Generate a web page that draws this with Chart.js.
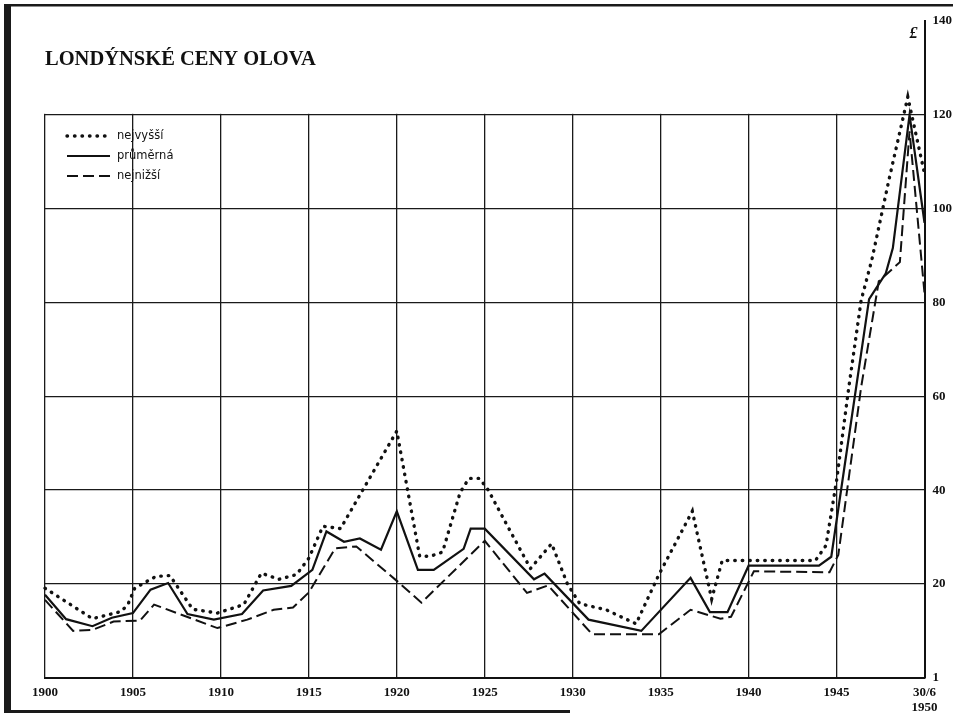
<!DOCTYPE html>
<html lang="cs">
<head>
<meta charset="utf-8">
<title>Londýnské ceny olova</title>
<script src="https://cdn.jsdelivr.net/npm/chart.js@4.4.1/dist/chart.umd.min.js"></script>
<style>
  html, body { margin: 0; padding: 0; background: #fff; }
  #wrap { width: 953px; height: 717px; }
</style>
</head>
<body>
<div id="wrap"><canvas id="leadChart" width="953" height="717"></canvas></div>
<script>
// Londýnské ceny olova, £ za tunu, 1900 - 30/6 1950
const titleText = 'LONDÝNSKÉ CENY OLOVA';
const seriesNames = ['nejvyšší', 'průměrná', 'nejnižší'];
const yTickLabels = { 0: '1', 140: '140' };

// nejvyšší
const highYears = [1900, 1902.7, 1904.3, 1904.7, 1905.1, 1906.3, 1907.1, 1908.4, 1909.8, 1911.3,
  1912.3, 1913.3, 1914.3, 1915.0, 1915.8, 1916.8, 1920.0, 1921.3, 1921.9, 1922.6,
  1923.6, 1924.1, 1924.7, 1925.2, 1926.2, 1927.6, 1928.8, 1929.7, 1930.4, 1931.9,
  1933.6, 1934.9, 1936.8, 1937.9, 1938.5, 1943.8, 1944.4, 1945.0, 1945.7, 1946.4,
  1947.0, 1948.0, 1949.05, 1950];
const highValues = [19.1, 12.6, 14.1, 15.5, 19.1, 21.6, 21.8, 14.6, 13.8, 15.6,
  22.3, 21.0, 22.0, 25.5, 32.3, 31.8, 52.6, 25.9, 25.9, 26.8,
  39.5, 42.5, 42.5, 40.0, 33.0, 23.3, 28.6, 20.0, 15.8, 14.5,
  11.5, 22.0, 35.5, 16.8, 25.0, 25.0, 28.2, 42.0, 62.0, 80.5,
  89.0, 106.5, 123.8, 107.5];

// průměrná
const avgYears = [1900, 1901.2, 1902.7, 1903.8, 1905.0, 1906.0, 1907.0, 1908.1, 1909.6, 1911.2,
  1912.4, 1914.0, 1915.2, 1916.0, 1917.0, 1917.9, 1919.1, 1920.0, 1921.2, 1922.1,
  1923.8, 1924.2, 1925.0, 1927.8, 1928.4, 1930.9, 1933.9, 1936.7, 1937.8, 1938.8,
  1940.0, 1944.0, 1944.7, 1946.85, 1947.8, 1948.2, 1949.15, 1950];
const avgValues = [17.7, 12.5, 11.0, 12.8, 13.8, 18.8, 20.2, 13.6, 12.4, 13.6,
  18.6, 19.6, 23.0, 31.2, 29.0, 29.7, 27.3, 35.5, 23.0, 23.0,
  27.5, 31.8, 31.8, 21.0, 22.2, 12.4, 10.0, 21.3, 14.0, 14.0,
  23.9, 23.9, 25.8, 80.7, 86.2, 91.6, 120.0, 97.0];

// nejnižší
const lowYears = [1900, 1901.6, 1902.7, 1903.9, 1905.4, 1906.2, 1909.8, 1911.5, 1913.0, 1914.1,
  1915.0, 1916.5, 1917.7, 1920.05, 1921.4, 1925.0, 1927.4, 1928.6, 1931.1, 1934.9,
  1936.7, 1938.4, 1939.0, 1940.3, 1944.6, 1945.1, 1946.4, 1947.4, 1948.6, 1949.15, 1950];
const lowValues = [16.6, 10.0, 10.2, 12.0, 12.2, 15.6, 10.6, 12.4, 14.5, 15.0,
  18.2, 27.6, 28.0, 20.5, 16.0, 29.2, 18.1, 19.7, 9.3, 9.3,
  14.5, 12.6, 13.0, 22.7, 22.5, 26.2, 62.0, 84.5, 88.6, 116.5, 82.0];

function toPoints(xs, ys) {
  return xs.map((x, i) => ({ x: x, y: ys[i] }));
}

const ink = '#111';
const serif = '"Liberation Serif", "DejaVu Serif", serif';

// rámeček, nadpis, legenda a znak £ kreslíme sami
const decor = {
  id: 'decor',
  beforeDraw(chart) {
    const ctx = chart.ctx;
    ctx.save();
    ctx.fillStyle = '#fff';
    ctx.fillRect(0, 0, chart.width, chart.height);
    ctx.fillStyle = '#1a1a1a';
    ctx.fillRect(4, 4, chart.width - 4, 2.5);     // horní okraj
    ctx.fillRect(4, 4, 7, 709);                   // levý okraj
    ctx.fillRect(4, 710, 566, 3);                 // dolní okraj
    ctx.restore();
  },
  beforeDatasetsDraw(chart) {
    // svislé čáry mřížky končí na 120
    const ctx = chart.ctx;
    const area = chart.chartArea;
    const y120 = chart.scales.y.getPixelForValue(120);
    ctx.save();
    ctx.fillStyle = '#fff';
    ctx.fillRect(area.left - 3, area.top - 1, area.right - area.left + 1.5, y120 - area.top);
    ctx.restore();
  },
  afterDraw(chart) {
    const ctx = chart.ctx;
    const area = chart.chartArea;
    ctx.save();
    ctx.fillStyle = ink;
    ctx.textBaseline = 'alphabetic';
    ctx.font = 'bold 20.5px ' + serif;
    ctx.fillText(titleText, area.left, 65);

    ctx.font = 'bold italic 16px ' + serif;
    ctx.textAlign = 'right';
    ctx.fillText('£', area.right - 7, 38);

    // legenda
    ctx.textAlign = 'left';
    ctx.textBaseline = 'middle';
    ctx.font = '11.5px "DejaVu Sans", sans-serif';
    chart.data.datasets.forEach((ds, i) => {
      const y = 136 + i * 20;
      ctx.beginPath();
      ctx.setLineDash(ds.borderDash || []);
      ctx.lineCap = ds.borderCapStyle || 'butt';
      ctx.lineWidth = ds.borderWidth;
      ctx.strokeStyle = ds.borderColor;
      ctx.moveTo(area.left + 22, y);
      ctx.lineTo(area.left + 65, y);
      ctx.stroke();
      ctx.setLineDash([]);
      ctx.fillText(ds.label, area.left + 72, y + 0.5);
    });
    ctx.restore();
  }
};

const ctx = document.getElementById('leadChart').getContext('2d');
const leadChart = new Chart(ctx, {
  type: 'line',
  data: {
    datasets: [
      {
        label: seriesNames[0],
        data: toPoints(highYears, highValues),
        borderColor: ink,
        borderWidth: 3.4,
        borderDash: [0.5, 7],
        borderCapStyle: 'round',
        pointRadius: 0,
        tension: 0
      },
      {
        label: seriesNames[1],
        data: toPoints(avgYears, avgValues),
        borderColor: ink,
        borderWidth: 2.2,
        pointRadius: 0,
        tension: 0
      },
      {
        label: seriesNames[2],
        data: toPoints(lowYears, lowValues),
        borderColor: ink,
        borderWidth: 2,
        borderDash: [11, 5],
        pointRadius: 0,
        tension: 0
      }
    ]
  },
  options: {
    responsive: false,
    animation: false,
    devicePixelRatio: 1,
    clip: false,
    layout: { padding: { left: 45, right: -7, top: 21, bottom: -5.4 } },
    plugins: {
      legend: { display: false },
      tooltip: { enabled: false },
      title: { display: false }
    },
    scales: {
      x: {
        type: 'linear',
        min: 1900,
        max: 1950,
        grid: { color: '#1a1a1a', lineWidth: 1.3, drawTicks: false },
        border: { display: true, color: '#111', width: 2 },
        ticks: {
          stepSize: 5,
          autoSkip: false,
          maxRotation: 0,
          padding: 8,
          color: ink,
          font: { family: serif, size: 13, weight: 'bold', lineHeight: 1.1 },
          callback: v => (v === 1950 ? ['30/6', '1950'] : String(v))
        }
      },
      y: {
        position: 'right',
        min: 0,
        max: 140,
        grid: {
          drawTicks: false,
          lineWidth: 1.3,
          color: c => (c.tick && (c.tick.value === 0 || c.tick.value === 140) ? 'rgba(0,0,0,0)' : '#1a1a1a')
        },
        border: { display: true, color: '#111', width: 2 },
        ticks: {
          stepSize: 20,
          padding: 8,
          color: ink,
          font: { family: serif, size: 13, weight: 'bold' },
          callback: v => (yTickLabels[v] !== undefined ? yTickLabels[v] : String(v))
        }
      }
    }
  },
  plugins: [decor]
});
</script>
</body>
</html>
